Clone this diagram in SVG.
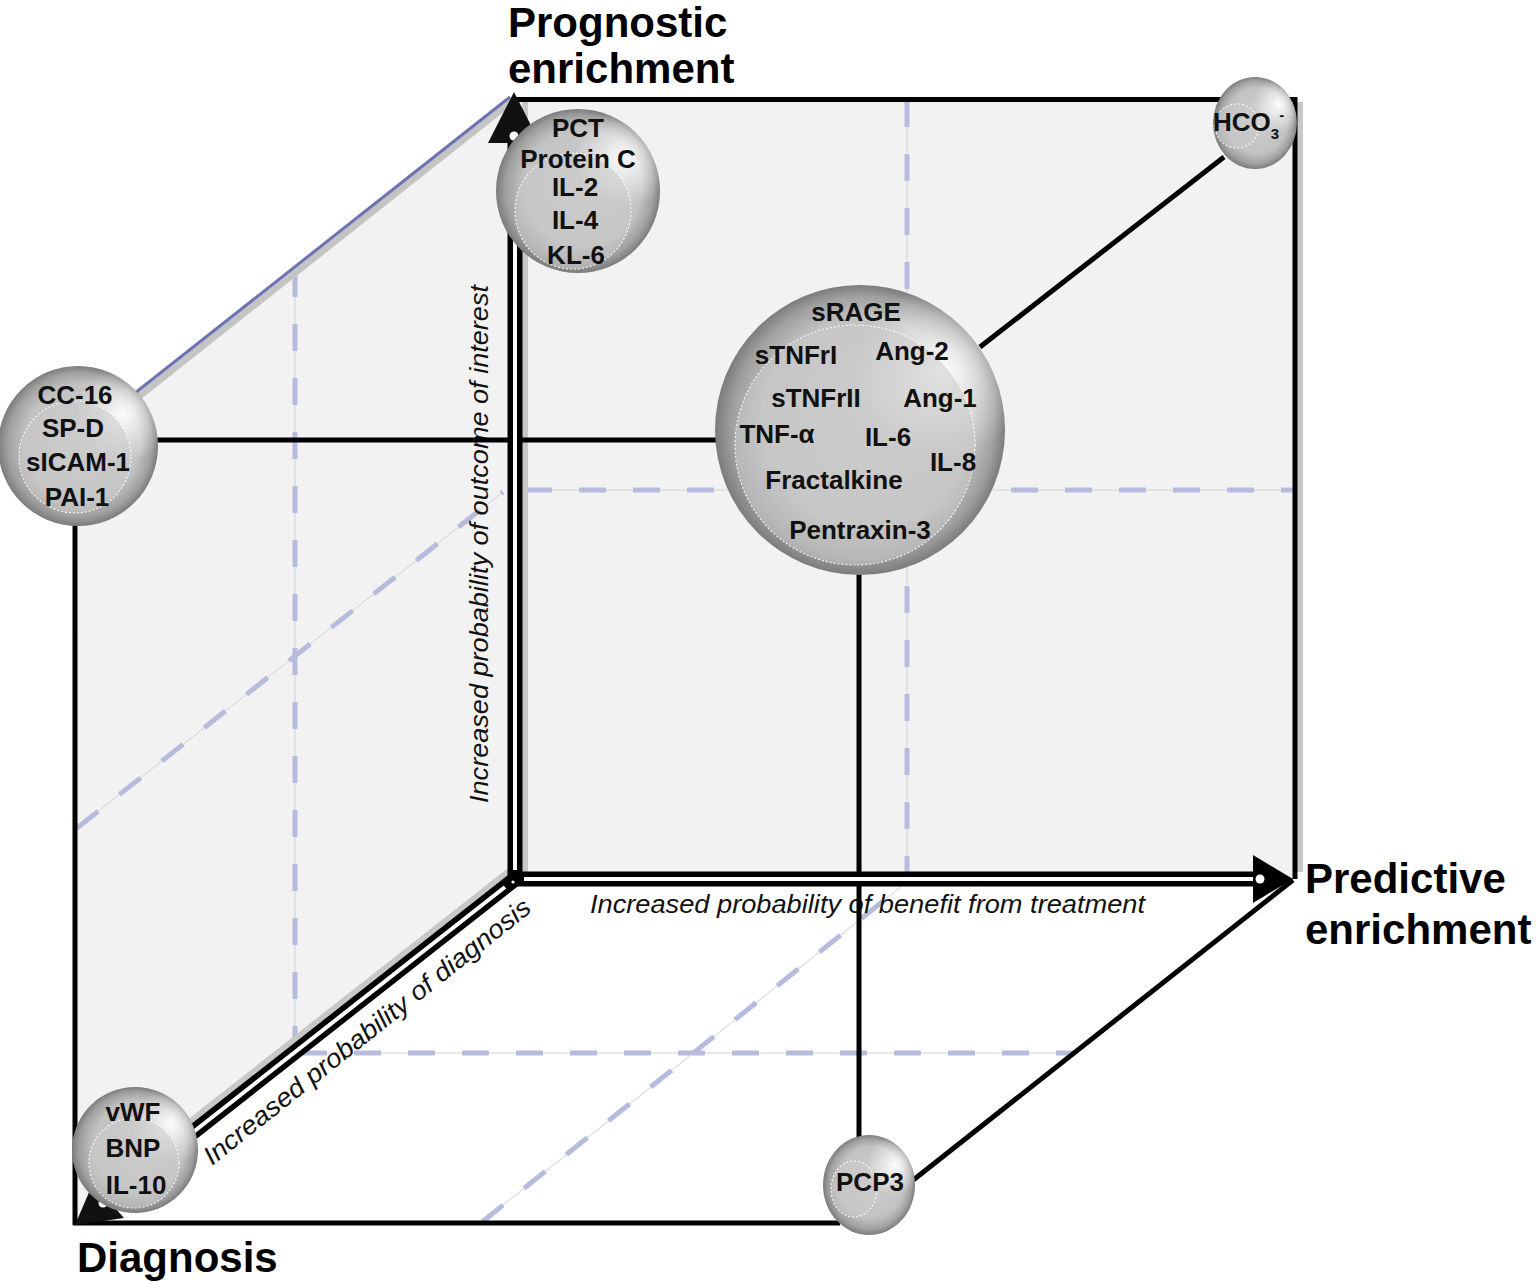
<svg xmlns="http://www.w3.org/2000/svg" width="1540" height="1282" viewBox="0 0 1540 1282">
<defs>
<style>
.face{fill:#f2f2f2;stroke:none}
.dg{fill:none;stroke:#d2d2d2;stroke-width:1}
.db{fill:none;stroke:#b7bbdd;stroke-width:5;stroke-dasharray:27 27}
.edge{fill:none;stroke:#000;stroke-width:5}
.shadow{fill:none;stroke:#c8c8c8;stroke-width:6}
.axb{fill:none;stroke:#000;stroke-width:15}
.axw{fill:none;stroke:#fff;stroke-width:4}
.conn{fill:none;stroke:#000;stroke-width:5}
.sph{fill:url(#sph)}
.hl{fill:url(#hl)}
.inner{fill:#cbcbcb;fill-opacity:0.55;stroke:#ffffff;stroke-opacity:0.85;stroke-width:1.2;stroke-dasharray:2 2}
.nt{font-family:"Liberation Sans",Arial,Helvetica,sans-serif;font-weight:bold;font-size:26px;fill:#111;text-anchor:middle}
.big{font-family:"Liberation Sans",Arial,Helvetica,sans-serif;font-weight:bold;font-size:42px;fill:#000}
.ax{font-family:"Liberation Sans",Arial,Helvetica,sans-serif;font-style:italic;font-size:26px;fill:#111}
</style>
<radialGradient id="sph" cx="0.5" cy="0.5" r="0.5" fx="0.6" fy="0.4">
<stop offset="0" stop-color="#d0d0d0"/>
<stop offset="0.72" stop-color="#c2c2c2"/>
<stop offset="0.9" stop-color="#a0a0a0"/>
<stop offset="1" stop-color="#7c7c7c"/>
</radialGradient>
<radialGradient id="hl" cx="0.78" cy="0.3" r="0.3">
<stop offset="0" stop-color="#ffffff" stop-opacity="0.95"/>
<stop offset="0.5" stop-color="#ffffff" stop-opacity="0.45"/>
<stop offset="1" stop-color="#ffffff" stop-opacity="0"/>
</radialGradient>
</defs>

<g id="faces">
<polygon class="face" points="78,440 512,97 1297,97 1297,879 515,879 75,1225"/>
</g>

<g id="gridlines">
<path class="dg" d="M907 100 V878"/><path class="db" d="M907 100 V878"/>
<path class="dg" d="M525 490 H1295"/><path class="db" d="M525 490 H1295"/>
<path class="dg" d="M295 270 V1052"/><path class="db" d="M295 270 V1052"/>
<path class="dg" d="M77 828 L503 492"/><path class="db" d="M77 828 L503 492"/>
<path class="dg" d="M300 1053 H1073"/><path class="db" d="M300 1053 H1073"/>
<path class="dg" d="M482 1222 L907 882"/><path class="db" d="M482 1222 L907 882"/>
</g>

<g id="axis-labels">
<text class="ax" transform="translate(488,803) rotate(-90)" textLength="518" lengthAdjust="spacingAndGlyphs">Increased probability of outcome of interest</text>
<text class="ax" x="590" y="913" textLength="555" lengthAdjust="spacingAndGlyphs">Increased probability of benefit from treatment</text>
<text class="ax" transform="translate(212,1166) rotate(-38.5)" textLength="410" lengthAdjust="spacingAndGlyphs">Increased probability of diagnosis</text>
</g>

<g id="connectors">
<path class="shadow" d="M1300 102 V872"/>
<path class="shadow" d="M525 100 V872"/>
<path class="shadow" d="M509 871 L150 1153"/>
<path d="M138 397 L512 101" fill="none" stroke="#c4c4c4" stroke-width="7"/>
<path d="M135 393 L510 97" fill="none" stroke="#6b73b2" stroke-width="3"/>
<path class="edge" d="M512 99.5 H1295 V879"/>
<path class="conn" d="M75 520 V1225"/>
<path class="conn" d="M73 1223 H840"/>
<path class="conn" d="M155 440 H717"/>
<path class="conn" d="M980 347 L1224 157"/>
<path class="conn" d="M859 574 V1138"/>
<path class="conn" d="M912 1181 L1293 880"/>
<path class="axb" d="M515 143 V879 H1255"/>
<path class="axb" d="M515 879 L108 1199"/>
<path class="axw" d="M515 870 V136"/>
<path class="axw" d="M524 879 H1260"/>
<path class="axw" d="M505 887 L103 1203"/>
<circle cx="513" cy="882" r="1.6" fill="#fff"/>
<polygon points="514,92 488,143 540,143" fill="#111"/>
<circle cx="514" cy="136" r="4.5" fill="#fff"/>
<polygon points="1253,855 1253,903 1293,879" fill="#000"/>
<circle cx="1260" cy="879" r="4.5" fill="#fff"/>
<polygon points="75,1225 93,1183 124,1218" fill="#111"/>
<circle cx="103" cy="1203" r="4.5" fill="#fff"/>
</g>

<g id="node-pct">
<circle class="sph" cx="578" cy="191" r="82"/>
<circle class="hl" cx="578" cy="191" r="82"/>
<circle class="inner" cx="573" cy="211" r="58"/>
<text class="nt" x="578" y="137">PCT</text>
<text class="nt" x="578" y="168">Protein C</text>
<text class="nt" x="575" y="196">IL-2</text>
<text class="nt" x="575" y="229">IL-4</text>
<text class="nt" x="576" y="264">KL-6</text>
</g>

<g id="node-hco3">
<ellipse class="sph" cx="1255" cy="123" rx="42" ry="46"/>
<ellipse class="hl" cx="1255" cy="123" rx="42" ry="46"/>
<circle class="inner" cx="1237" cy="126" r="22"/>
<text class="nt" x="1213" y="131" style="text-anchor:start">HCO<tspan font-size="15" dy="8">3</tspan><tspan font-size="15" dy="-19">-</tspan></text>
</g>

<g id="node-cc16">
<circle class="sph" cx="78" cy="446" r="80"/>
<circle class="hl" cx="78" cy="446" r="80"/>
<circle class="inner" cx="75" cy="457" r="56"/>
<text class="nt" x="75" y="404">CC-16</text>
<text class="nt" x="73" y="437">SP-D</text>
<text class="nt" x="78" y="471">sICAM-1</text>
<text class="nt" x="77" y="506">PAI-1</text>
</g>

<g id="node-srage">
<circle class="sph" cx="860" cy="430" r="145"/>
<circle class="hl" cx="860" cy="430" r="145"/>
<circle class="inner" cx="855" cy="445" r="120"/>
<text class="nt" x="856" y="321">sRAGE</text>
<text class="nt" x="796" y="364">sTNFrI</text>
<text class="nt" x="912" y="360">Ang-2</text>
<text class="nt" x="816" y="407">sTNFrII</text>
<text class="nt" x="940" y="407">Ang-1</text>
<text class="nt" x="777" y="443">TNF-α</text>
<text class="nt" x="888" y="446">IL-6</text>
<text class="nt" x="953" y="471">IL-8</text>
<text class="nt" x="834" y="489">Fractalkine</text>
<text class="nt" x="860" y="539">Pentraxin-3</text>
</g>

<g id="node-vwf">
<circle class="sph" cx="135" cy="1150" r="63"/>
<circle class="hl" cx="135" cy="1150" r="63"/>
<circle class="inner" cx="134" cy="1163" r="45"/>
<text class="nt" x="133" y="1121">vWF</text>
<text class="nt" x="133" y="1157">BNP</text>
<text class="nt" x="136" y="1194">IL-10</text>
</g>

<g id="node-pcp3">
<ellipse class="sph" cx="869" cy="1185" rx="46" ry="50"/>
<ellipse class="hl" cx="869" cy="1185" rx="46" ry="50"/>
<ellipse class="inner" cx="854" cy="1189" rx="23" ry="28"/>
<text class="nt" x="870" y="1191">PCP3</text>
</g>

<g id="titles">
<text class="big" x="508" y="37">Prognostic</text>
<text class="big" x="508" y="83">enrichment</text>
<text class="big" x="1305" y="893">Predictive</text>
<text class="big" x="1305" y="944">enrichment</text>
<text class="big" x="77" y="1272">Diagnosis</text>
</g>
</svg>
